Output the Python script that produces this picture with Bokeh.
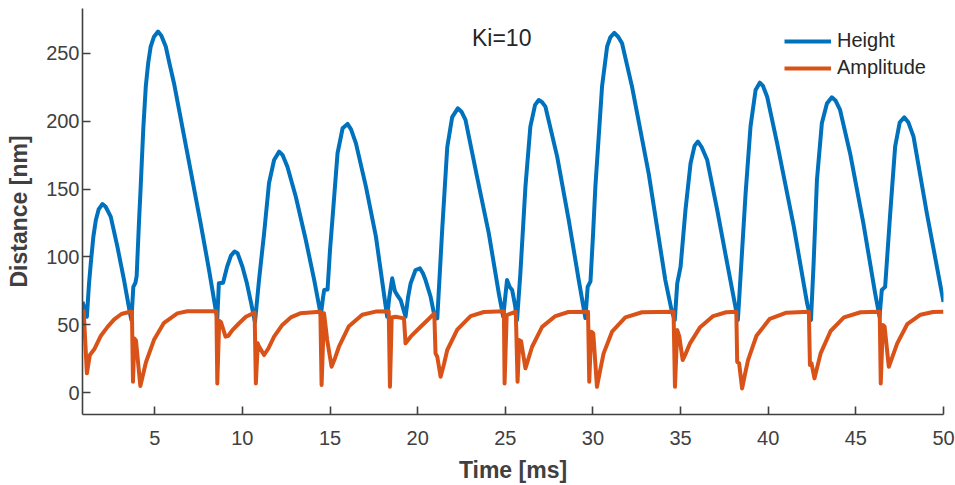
from bokeh.plotting import figure
from bokeh.models import Range1d, Label, Legend, LegendItem, FixedTicker
from bokeh.embed import file_html
from bokeh.resources import INLINE

# ---------------- data ----------------
height_t = [0.88, 1.05, 1.13, 1.25, 1.35, 1.5, 1.64, 1.8, 2.02, 2.2, 2.49, 2.87, 3.25, 3.59, 3.67,
            3.78, 3.9, 3.97, 4.1, 4.2, 4.35, 4.49, 4.63, 4.77, 4.95, 5.19, 5.38, 5.63, 5.85, 6.1,
            6.86, 7.62, 8.1, 8.48, 8.57, 8.66, 8.9, 9.13, 9.35, 9.55, 9.73, 10.0, 10.26, 10.5,
            10.72, 10.95, 11.24, 11.52, 11.81, 12.1, 12.3, 12.57, 13.05, 13.62, 14.1, 14.48, 14.6,
            14.67, 14.86, 15.0, 15.15, 15.43, 15.72, 16.0, 16.2, 16.48, 17.05, 17.62, 18.0, 18.26,
            18.38, 18.55, 18.7, 18.83, 19.03, 19.31, 19.45, 19.6, 19.88, 20.13, 20.3, 20.45, 20.74,
            20.93, 21.12, 21.4, 21.69, 21.97, 22.29, 22.5, 22.73, 23.39, 24.06, 24.63, 24.88, 25.1,
            25.25, 25.39, 25.55, 25.67, 25.86, 26.15, 26.43, 26.7, 26.91, 27.1, 27.29, 27.96, 28.62,
            29.19, 29.57, 29.7, 29.86, 30.0, 30.14, 30.52, 30.81, 31.0, 31.22, 31.45, 31.66, 32.23,
            33.18, 34.13, 34.5, 34.67, 34.81, 35.0, 35.28, 35.57, 35.8, 35.99, 36.2, 36.52, 37.09,
            37.66, 38.27, 38.42, 38.71, 38.99, 39.28, 39.52, 39.7, 39.94, 40.51, 41.46, 42.22, 42.44,
            42.59, 42.78, 43.06, 43.35, 43.63, 43.85, 44.1, 44.67, 45.43, 46.1, 46.35, 46.48, 46.67,
            46.96, 47.24, 47.5, 47.76, 48.0, 48.29, 49.05, 50.0]
height_v = [67, 60, 56, 80, 95, 115, 127, 135, 139, 137, 129.7, 107.6, 83, 58.5, 53.6,
            78, 81, 86, 125, 151.8, 195, 225.5, 243, 255, 262, 266, 263, 255, 242, 228,
            176.4, 124.8, 90.4, 61, 55, 80.6, 81, 92.8, 101, 104, 102.7, 93, 80.6, 66,
            52, 83, 117.4, 154.3, 171.4, 177.6, 175, 166.5, 144.4, 112.5, 83, 57, 70,
            75.7, 76, 105, 129.7, 176.4, 194.8, 198, 194, 183.7, 151.8, 115, 80, 56,
            70, 84.3, 75, 72, 68.3, 56, 70, 80.6, 90.4, 91.6, 88, 83, 70.7,
            58.5, 54.8, 120, 181, 203, 209.5, 207, 201, 159, 117.4, 73.2, 56, 83,
            78, 75.7, 65, 53.6, 88, 151.8, 196, 212, 215.6, 214, 210.7, 173.9, 127.2,
            83, 55, 78, 82, 115, 151.8, 225.5, 255, 262, 265, 262, 257.4, 225.5,
            161.6, 83, 60, 53.6, 80.6, 92.8, 134.6, 169, 182, 185, 181, 171.4, 134.6,
            95.3, 53.6, 85.5, 146.9, 196, 223, 228.4, 226, 218, 183.7, 122.3, 65.9, 53.6,
            95.3, 156.7, 198.5, 213, 217.6, 215, 208.3, 176.4, 124.8, 73.2, 56, 75.7, 78,
            132.2, 181.2, 199, 202.9, 199, 188.6, 132.2, 67]

amp_t = [0.88, 0.95, 1.13, 1.3, 1.55, 1.93, 2.31, 2.69, 3.1, 3.6, 3.7, 3.76, 3.84, 3.93, 4.18,
         4.5, 4.96, 5.53, 6.29, 6.86, 8.52, 8.57, 8.68, 8.78, 9.04, 9.2, 9.42, 9.8, 10.2, 10.7,
         10.77, 10.88, 10.95, 11.24, 11.5, 11.81, 12.28, 12.76, 13.3, 14.45, 14.52, 14.66, 14.84,
         15.09, 15.3, 15.51, 16.08, 16.84, 17.6, 18.35, 18.42, 18.52, 18.74, 19.22, 19.31, 19.6,
         20.17, 20.6, 20.95, 21.02, 21.12, 21.31, 21.5, 21.69, 22.26, 23.02, 23.78, 24.92, 24.96,
         25.08, 25.6, 25.7, 25.8, 25.9, 26.15, 26.53, 27.1, 27.86, 28.6, 29.72, 29.79, 29.9,
         30.02, 30.23, 30.42, 30.61, 31.09, 31.85, 32.8, 34.6, 34.68, 34.81, 34.93, 35.12, 35.3,
         35.54, 36.1, 36.86, 37.6, 38.18, 38.23, 38.34, 38.51, 38.68, 38.85, 39.33, 40.09, 41.04,
         42.32, 42.38, 42.47, 42.64, 42.99, 43.56, 44.32, 45.27, 46.36, 46.42, 46.54, 46.64, 46.88,
         47.1, 47.36, 47.93, 48.69, 49.4, 50.0]
amp_v = [61, 59.7, 14.3, 27.8, 32, 42, 48.5, 54, 58, 59.7, 59.7, 8.1, 40, 38.5, 5,
         22.5, 39, 51.5, 58.5, 60, 60, 6.9, 53, 52, 41.3, 42, 46, 51, 56, 59,
         6.9, 36.4, 34, 27.8, 33, 41.3, 50, 55.5, 58.5, 59.7, 5.7, 58.5, 38.8,
         19.2, 26, 33.9, 49, 57.5, 59.8, 60, 4.4, 55.5, 56, 54.8, 36.4, 41.3,
         48.6, 54, 58.5, 29, 26.5, 11.8, 21, 31.5, 46.5, 56.5, 59.5, 60, 6.9,
         57.2, 59.7, 8.1, 38.8, 38, 18, 33.9, 48.5, 56.5, 59.5, 59.7, 8.1, 45,
         43.8, 4.4, 17, 29, 45, 55.5, 59.3, 59.7, 4.4, 46.2, 41.3, 24.1, 29,
         36.4, 48, 56.5, 59.3, 59.7, 22.8, 21.7, 3.2, 14, 24.1, 42, 54.5, 59,
         59.7, 20.4, 21.7, 10.6, 29, 45.5, 55.5, 59.3, 59.7, 6.9, 49.9, 48.6, 19.2,
         27, 36.4, 50.5, 57.5, 59.5, 59.7]

x_ticks = [5, 10, 15, 20, 25, 30, 35, 40, 45, 50]
y_ticks = [0, 50, 100, 150, 200, 250]
series_names = ["Height", "Amplitude"]
annotation = "Ki=10"

BLUE = "#0072BD"
ORANGE = "#D95319"
AX = "#404040"
FONT = "Liberation Sans"

p = figure(width=955, height=485, x_range=Range1d(0.88, 50), y_range=Range1d(-16, 283),
           output_backend="svg", toolbar_location=None,
           min_border_left=82, min_border_right=12, min_border_top=8, min_border_bottom=71)
p.outline_line_color = None
p.grid.visible = False
p.background_fill_color = "white"
p.border_fill_color = "white"

r1 = p.line(height_t, height_v, line_color=BLUE, line_width=4, line_join="round")
r2 = p.line(amp_t, amp_v, line_color=ORANGE, line_width=4, line_join="round")

for ax in (p.xaxis[0], p.yaxis[0]):
    ax.axis_line_color = AX
    ax.axis_line_width = 1.6
    ax.major_tick_line_color = AX
    ax.major_tick_line_width = 1.6
    ax.major_tick_in = 8
    ax.major_tick_out = 0
    ax.minor_tick_line_color = None
    ax.major_label_text_color = AX
    ax.major_label_text_font = FONT
    ax.major_label_text_font_size = "20px"
    ax.axis_label_text_color = AX
    ax.axis_label_text_font = FONT
    ax.axis_label_text_font_size = "23px"
    ax.axis_label_text_font_style = "bold"

p.xaxis.ticker = FixedTicker(ticks=x_ticks)
p.yaxis.ticker = FixedTicker(ticks=y_ticks)
p.xaxis.axis_label = "Time [ms]"
p.yaxis.axis_label = "Distance [nm]"
p.xaxis.major_label_standoff = 16
p.yaxis.major_label_standoff = 3
p.xaxis.axis_label_standoff = 9
p.yaxis.axis_label_standoff = 11

legend = Legend(items=[LegendItem(label=series_names[0], renderers=[r1]),
                       LegendItem(label=series_names[1], renderers=[r2])],
                location=(702, 335), orientation="vertical")
legend.border_line_color = None
legend.background_fill_alpha = 0
legend.padding = 0
legend.margin = 0
legend.spacing = 4
legend.glyph_width = 47
legend.glyph_height = 20
legend.label_height = 20
legend.label_standoff = 6
legend.label_text_font = FONT
legend.label_text_font_size = "20px"
legend.label_text_color = "#262626"
p.add_layout(legend, "center")

p.add_layout(Label(x=23.1, y=261.5, text=annotation, text_font=FONT, text_font_size="23px",
                   text_color="#262626", text_baseline="middle", text_align="left"))

open("out.html", "w").write(file_html(p, INLINE))
